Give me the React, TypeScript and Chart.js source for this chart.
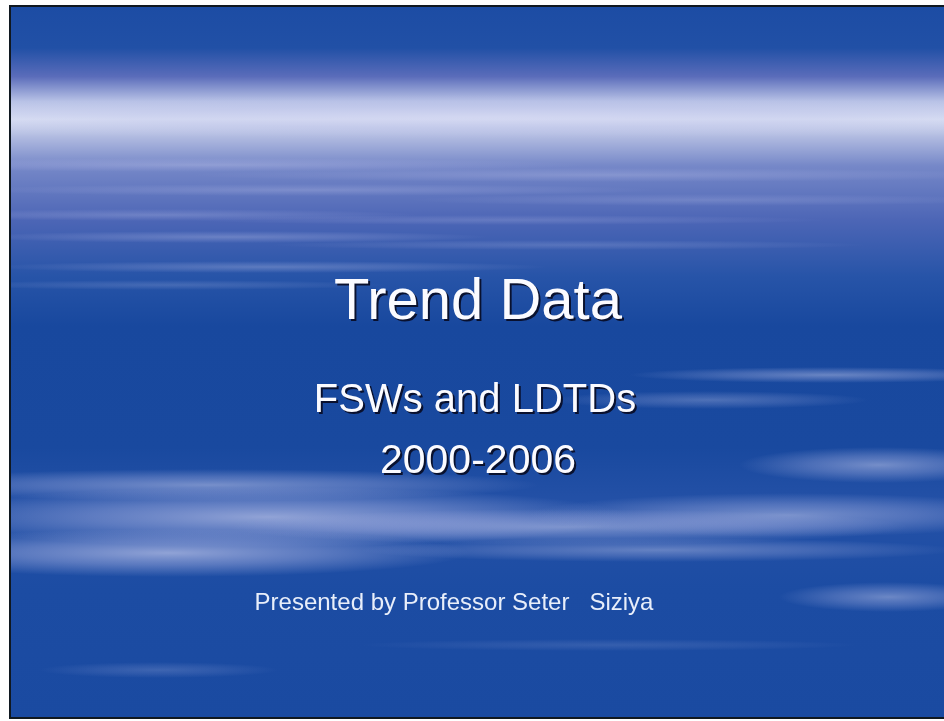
import React, { useEffect, useRef } from "react";
import { Chart, registerables } from "chart.js";

Chart.register(...registerables);

// Slide text lines (title slide, no numeric series)
const TEXT_LINES = ["Trend Data", "FSWs and LDTDs", "2000-2006", "Presented by Professor Seter   Siziya"];
const TEXT_X = [469, 466, 469, 445];
const TEXT_Y = [314, 407, 468, 605];
const TEXT_SIZE = [58, 40, 41, 24];
const TEXT_SHADOW = [true, true, true, false];

const W = 935;
const H = 714;

// decorative cloud streaks: [cx, cy, rx, ry, alpha]
const STREAKS: number[][] = [
  [470, 112, 700, 22, 0.55],
  [200, 160, 380, 7, 0.3],
  [600, 170, 420, 7, 0.25],
  [300, 185, 350, 6, 0.25],
  [700, 195, 300, 6, 0.2],
  [150, 210, 260, 6, 0.25],
  [500, 215, 320, 5, 0.2],
  [220, 232, 260, 6, 0.3],
  [560, 240, 300, 5, 0.2],
  [260, 262, 280, 6, 0.3],
  [160, 280, 220, 5, 0.2],
  [820, 370, 200, 8, 0.45],
  [700, 395, 160, 9, 0.3],
  [870, 460, 140, 18, 0.5],
  [200, 480, 330, 16, 0.5],
  [260, 512, 360, 30, 0.65],
  [160, 548, 300, 24, 0.65],
  [560, 522, 340, 18, 0.5],
  [780, 510, 260, 22, 0.5],
  [650, 545, 300, 12, 0.4],
  [880, 592, 110, 15, 0.45],
  [150, 665, 120, 8, 0.2],
  [600, 640, 250, 6, 0.15],
];

const backgroundPlugin = {
  id: "slideBackground",
  beforeDraw(chart: any) {
    const ctx = chart.ctx as CanvasRenderingContext2D;
    const w = chart.width;
    const h = chart.height;
    ctx.save();
    const g = ctx.createLinearGradient(0, 0, 0, h);
    g.addColorStop(0, "#1c4ca4");
    g.addColorStop(0.06, "#2150a6");
    g.addColorStop(0.1, "#5a6cba");
    g.addColorStop(0.135, "#b8c2e6");
    g.addColorStop(0.16, "#dde3f4");
    g.addColorStop(0.185, "#b0bae0");
    g.addColorStop(0.225, "#7688c8");
    g.addColorStop(0.3, "#4d66b6");
    g.addColorStop(0.38, "#2754a8");
    g.addColorStop(0.45, "#18489e");
    g.addColorStop(0.62, "#19499f");
    g.addColorStop(0.7, "#2451a7");
    g.addColorStop(0.82, "#1c4ca3");
    g.addColorStop(1, "#1a4aa1");
    ctx.fillStyle = g;
    ctx.fillRect(0, 0, w, h);

    for (const [cx, cy, rx, ry, a] of STREAKS) {
      ctx.save();
      ctx.translate(cx, cy);
      ctx.scale(rx / ry, 1);
      const rg = ctx.createRadialGradient(0, 0, 0, 0, 0, ry);
      rg.addColorStop(0, `rgba(205,208,240,${a})`);
      rg.addColorStop(0.5, `rgba(185,190,234,${a * 0.6})`);
      rg.addColorStop(1, "rgba(185,190,234,0)");
      ctx.fillStyle = rg;
      ctx.beginPath();
      ctx.arc(0, 0, ry, 0, Math.PI * 2);
      ctx.fill();
      ctx.restore();
    }

    // frame
    ctx.fillStyle = "#101820";
    ctx.fillRect(0, 0, w, 2);
    ctx.fillRect(0, 0, 2, h);
    ctx.fillRect(0, h - 2, w, 2);
    ctx.restore();
  },
};

const textPlugin = {
  id: "slideText",
  afterDatasetsDraw(chart: any) {
    const ctx = chart.ctx as CanvasRenderingContext2D;
    const meta = chart.getDatasetMeta(0);
    ctx.save();
    ctx.textAlign = "center";
    ctx.textBaseline = "alphabetic";
    meta.data.forEach((pt: any, i: number) => {
      ctx.font = `${TEXT_SIZE[i]}px "Liberation Sans", Arial, sans-serif`;
      if (TEXT_SHADOW[i]) {
        ctx.fillStyle = "rgba(8,14,40,0.95)";
        ctx.fillText(TEXT_LINES[i], pt.x + 2, pt.y + 2);
        ctx.fillStyle = "#fbfbff";
      } else {
        ctx.fillStyle = "#e8eefa";
      }
      ctx.fillText(TEXT_LINES[i], pt.x, pt.y);
    });
    ctx.restore();
  },
};

export default function App() {
  const ref = useRef<HTMLCanvasElement>(null);
  useEffect(() => {
    if (!ref.current) return;
    const chart = new Chart(ref.current, {
      type: "scatter",
      data: {
        datasets: [
          {
            label: "text",
            data: TEXT_LINES.map((_, i) => ({ x: TEXT_X[i], y: TEXT_Y[i] })),
            pointRadius: 0,
            pointHoverRadius: 0,
          },
        ],
      },
      options: {
        animation: false,
        responsive: false,
        maintainAspectRatio: false,
        devicePixelRatio: 1,
        layout: { padding: 0 },
        events: [],
        scales: {
          x: { type: "linear", min: 0, max: W, display: false },
          y: { type: "linear", min: 0, max: H, reverse: true, display: false },
        },
        plugins: {
          legend: { display: false },
          tooltip: { enabled: false },
          title: { display: false },
        },
      },
      plugins: [backgroundPlugin, textPlugin],
    });
    return () => chart.destroy();
  }, []);
  return (
    <div style={{ position: "absolute", left: 0, top: 0, width: 944, height: 721, background: "#fff", overflow: "hidden" }}>
      <canvas ref={ref} width={W} height={H} style={{ position: "absolute", left: 9, top: 5, width: W, height: H, display: "block" }} />
    </div>
  );
}
